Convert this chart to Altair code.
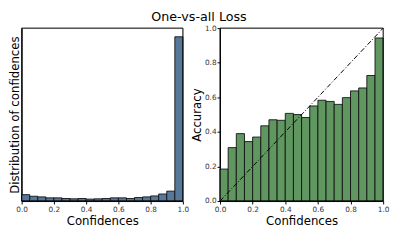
import altair as alt
import pandas as pd

bin_start = [round(i * 0.05, 2) for i in range(20)]
bin_end = [round((i + 1) * 0.05, 2) for i in range(20)]
conf_counts = [20, 15, 13, 10, 10, 8, 7, 8, 6, 7, 8, 10, 10, 8, 11, 13, 16, 22, 31, 513]
accuracy = [0.185, 0.309, 0.39, 0.344, 0.37, 0.435, 0.47, 0.467, 0.507, 0.5,
            0.483, 0.55, 0.583, 0.576, 0.559, 0.598, 0.637, 0.654, 0.726, 0.943]
diag_x = [0.0, 1.0]
diag_y = [0.0, 1.0]
ticks = [0.0, 0.2, 0.4, 0.6, 0.8, 1.0]
left_ymax = 540
right_ymax = 1.0

FONT = "DejaVu Sans"

df = pd.DataFrame({"b0": bin_start, "b1": bin_end, "count": conf_counts, "acc": accuracy})
diag = pd.DataFrame({"x": diag_x, "y": diag_y})
lframe = pd.DataFrame({"x0": [0.0], "x1": [1.0], "y0": [0.0], "y1": [left_ymax]})
rframe = pd.DataFrame({"x0": [0.0], "x1": [1.0], "y0": [0.0], "y1": [right_ymax]})

xaxis = alt.Axis(values=ticks, format=".1f", title="Confidences", grid=False,
                 labelFontSize=7.5, labelColor="#333", titleFontSize=12, titleFont=FONT,
                 titleFontWeight="normal", titlePadding=2, tickSize=3, tickColor="#000",
                 domainColor="#000", labelFont=FONT, labelPadding=2, titleColor="#000",
                 labelOverlap=False, labelFlush=False)
lyaxis = alt.Axis(title="Distribution of confidences", labels=False, ticks=False,
                  grid=False, titleFontSize=12, titleFont=FONT, titleFontWeight="normal",
                  titlePadding=0, domainColor="#000", titleColor="#000")
ryaxis = alt.Axis(title="Accuracy", values=ticks, format=".1f", grid=False,
                  labelFontSize=7.5, labelColor="#333", labelFont=FONT,
                  titleFontSize=12, titleFont=FONT, titleFontWeight="normal",
                  titlePadding=1, tickSize=3, tickColor="#000", domainColor="#000",
                  labelPadding=1, titleColor="#000", labelOverlap=False,
                  labelFlush=False)

xs = alt.Scale(domain=[0, 1], nice=False)
lys = alt.Scale(domain=[0, left_ymax], nice=False)
rys = alt.Scale(domain=[0, right_ymax], nice=False)

left_bars = alt.Chart(df).mark_rect(color="#56799b", stroke="#111", strokeWidth=0.9).encode(
    x=alt.X("b0:Q", scale=xs, axis=xaxis),
    x2="b1",
    y=alt.Y("count:Q", scale=lys, axis=lyaxis),
)
left_frame = alt.Chart(lframe).mark_rect(fill=None, stroke="#000", strokeWidth=1).encode(
    x=alt.X("x0:Q", scale=xs, axis=xaxis), x2="x1",
    y=alt.Y("y0:Q", scale=lys, axis=lyaxis), y2="y1",
)
left = alt.layer(left_bars, left_frame).properties(width=165, height=177)

right_bars = alt.Chart(df).mark_rect(color="#609660", stroke="#111", strokeWidth=0.9).encode(
    x=alt.X("b0:Q", scale=xs, axis=xaxis),
    x2="b1",
    y=alt.Y("acc:Q", scale=rys, axis=ryaxis),
)
right_line = alt.Chart(diag).mark_line(color="black", strokeWidth=1, strokeDash=[5, 2, 1, 2]).encode(
    x=alt.X("x:Q", scale=xs, axis=xaxis), y=alt.Y("y:Q", scale=rys, axis=ryaxis)
)
right_frame = alt.Chart(rframe).mark_rect(fill=None, stroke="#000", strokeWidth=1).encode(
    x=alt.X("x0:Q", scale=xs, axis=xaxis), x2="x1",
    y=alt.Y("y0:Q", scale=rys, axis=ryaxis), y2="y1",
)
right = alt.layer(right_bars, right_line, right_frame).properties(width=167, height=177)

chart = alt.hconcat(left, right, spacing=0).properties(
    title=alt.TitleParams("One-vs-all Loss", fontSize=13, font=FONT, fontWeight="normal",
                          anchor="middle", offset=0, color="#000"),
    padding={"left": 0, "top": 0, "right": 0, "bottom": 0},
).configure_view(stroke=None).configure(background="white")

chart.save("out.html", embed_options={"renderer": "svg", "actions": False})
